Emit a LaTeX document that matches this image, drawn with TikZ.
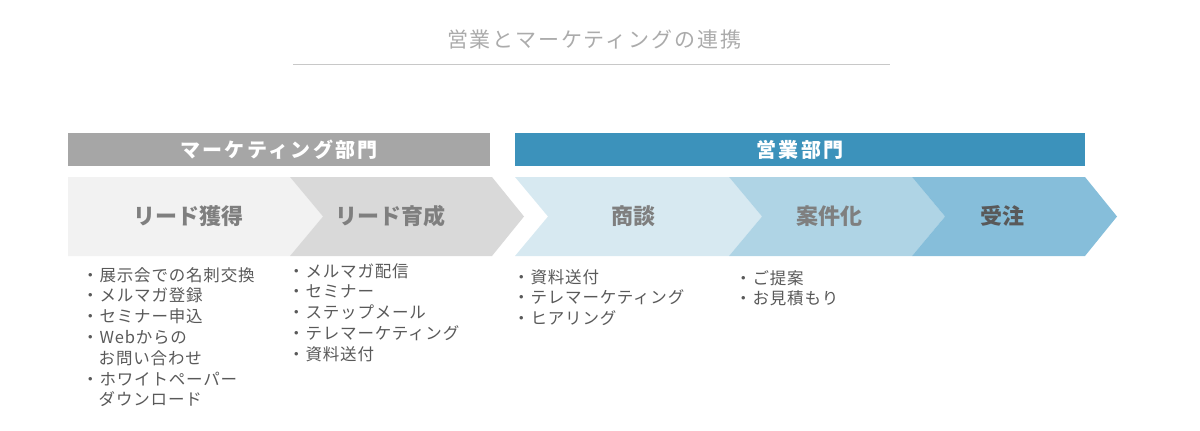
\documentclass[tikz,border=0pt]{standalone}
\usepackage{fontspec}
\setmainfont{Noto Sans CJK JP}
\definecolor{hdrgray}{HTML}{A6A6A6}
\definecolor{hdrblue}{HTML}{3C92BB}
\definecolor{cA}{HTML}{F2F2F2}
\definecolor{cB}{HTML}{D9D9D9}
\definecolor{cC}{HTML}{D7E9F1}
\definecolor{cD}{HTML}{AFD4E5}
\definecolor{cE}{HTML}{86BEDA}
\definecolor{txtgray}{HTML}{7F7F7F}
\definecolor{txtdark}{HTML}{595959}
\definecolor{titlegray}{HTML}{ABABAB}
\definecolor{rulegray}{HTML}{C8C8C8}
\tikzset{
  hdrbox/.style={minimum height=33pt, inner sep=0pt, text=white, font=\fontsize{20}{24}\selectfont\bfseries\addfontfeatures{LetterSpace=12}},
  chevlabel/.style={inner sep=0pt, font=\fontsize{22}{26}\selectfont\bfseries, text=txtgray},
  itemlist/.style={inner sep=0pt, anchor=north west, align=left, text=txtdark, font=\fontsize{16.5}{20.8}\selectfont\addfontfeatures{LetterSpace=5}},
}
\begin{document}
\begin{tikzpicture}[x=1pt,y=-1pt]
\useasboundingbox (0,0) rectangle (1200,431);
% title
\node[inner sep=0pt, text=titlegray, font=\fontsize{21}{25}\selectfont\addfontfeatures{LetterSpace=9}] (title) at (594,40) {営業とマーケティングの連携};
\draw[rulegray, line width=0.8pt] (293,64) -- (890,64);
% headers
\node[hdrbox, fill=hdrgray, minimum width=422pt] (mkt) at (279,149.5) {マーケティング部門};
\node[hdrbox, fill=hdrblue, minimum width=570pt] (sales) at (800,149.5) {営業部門};
% chevrons
\fill[cA] (68,177) -- (290,177) -- (323,216.5) -- (290,256) -- (68,256) -- cycle;
\fill[cB] (290,177) -- (492,177) -- (524,216.5) -- (492,256) -- (290,256) -- (323,216.5) -- cycle;
\fill[cC] (515,177) -- (729,177) -- (762,216.5) -- (729,256) -- (515,256) -- (548,216.5) -- cycle;
\fill[cD] (729,177) -- (912,177) -- (945,216.5) -- (912,256) -- (729,256) -- (762,216.5) -- cycle;
\fill[cE] (912,177) -- (1085,177) -- (1117,216.5) -- (1085,256) -- (912,256) -- (945,216.5) -- cycle;
\node[chevlabel] (c1) at (188,216) {リード獲得};
\node[chevlabel] (c2) at (390,216) {リード育成};
\node[chevlabel] (c3) at (633,216) {商談};
\node[chevlabel] (c4) at (829,216) {案件化};
\node[chevlabel, text=txtdark] (c5) at (1002,216) {受注};
% lists
\node[itemlist] (l1) at (82,267) {・展示会での名刺交換\\・メルマガ登録\\・セミナー申込\\・Webからの\\\phantom{・}お問い合わせ\\・ホワイトペーパー\\\phantom{・}ダウンロード};
\node[itemlist] (l2) at (288,263) {・メルマガ配信\\・セミナー\\・ステップメール\\・テレマーケティング\\・資料送付};
\node[itemlist] (l3) at (513,269) {・資料送付\\・テレマーケティング\\・ヒアリング};
\node[itemlist] (l4) at (735,270) {・ご提案\\・お見積もり};
\end{tikzpicture}
\end{document}
